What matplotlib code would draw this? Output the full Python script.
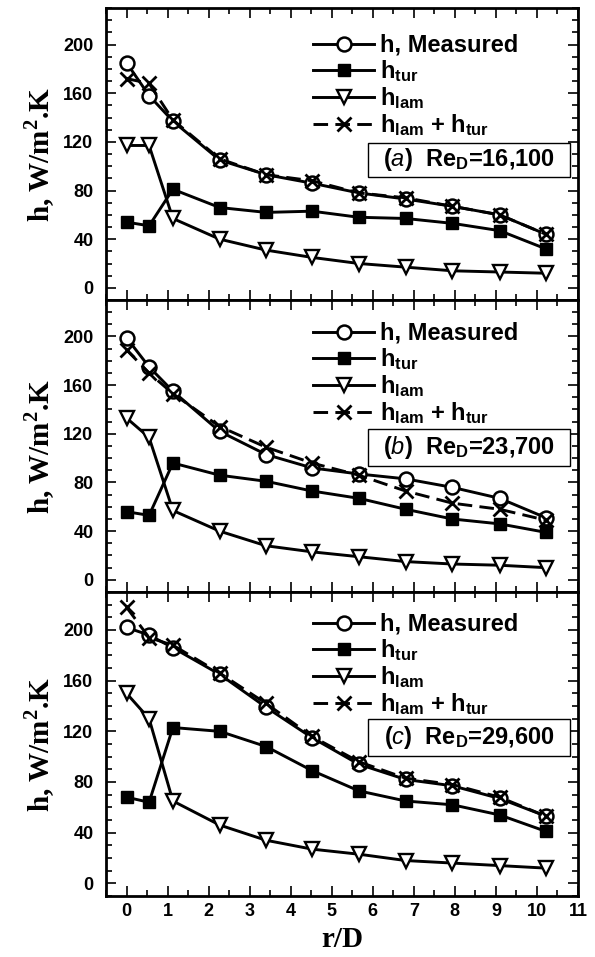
import matplotlib
matplotlib.use("Agg")
import matplotlib.pyplot as plt
from matplotlib.font_manager import FontProperties
from matplotlib.patches import Rectangle
from matplotlib.ticker import MultipleLocator

plt.rcParams["font.family"] = ["Liberation Sans", "DejaVu Sans"]
plt.rcParams["font.weight"] = "bold"
plt.rcParams["mathtext.fontset"] = "custom"
plt.rcParams["mathtext.rm"] = "Liberation Sans:normal"
plt.rcParams["mathtext.it"] = "Liberation Sans:italic:normal"
plt.rcParams["mathtext.bf"] = "Liberation Sans:bold"
plt.rcParams["mathtext.sf"] = "Liberation Serif:bold"

# radial position r/D of the measurement stations
r_d = [0, 0.55, 1.13, 2.27, 3.4, 4.52, 5.66, 6.8, 7.94, 9.09, 10.22]

# (a) Re_D = 16,100
a_meas = [185, 158, 137, 105, 93, 86, 78, 73, 67, 60, 44]
a_tur = [54, 51, 81, 66, 62, 63, 58, 57, 53, 47, 32]
a_lam = [117, 117, 57, 40, 31, 25, 20, 17, 14, 13, 12]
a_sum = [172, 168, 138, 106, 93, 88, 78, 74, 67, 60, 44]

# (b) Re_D = 23,700
b_meas = [199, 175, 155, 122, 103, 92, 87, 83, 76, 67, 51]
b_tur = [56, 53, 96, 86, 81, 73, 67, 58, 50, 46, 39]
b_lam = [133, 117, 57, 40, 28, 23, 19, 15, 13, 12, 10]
b_sum = [189, 170, 153, 126, 109, 96, 86, 73, 63, 58, 49]

# (c) Re_D = 29,600
c_meas = [202, 196, 186, 165, 139, 115, 94, 82, 77, 67, 53]
c_tur = [68, 64, 123, 120, 108, 89, 73, 65, 62, 54, 41]
c_lam = [150, 130, 65, 46, 34, 27, 23, 18, 16, 14, 12]
c_sum = [218, 194, 188, 166, 142, 116, 96, 83, 78, 68, 53]

panel_tags = ["a", "b", "c"]
panel_re = ["16,100", "23,700", "29,600"]
legend_labels = ["h, Measured", "h$_{\\mathbf{tur}}$", "h$_{\\mathbf{lam}}$",
                 "h$_{\\mathbf{lam}}$ + h$_{\\mathbf{tur}}$"]

x_ticks = list(range(0, 12))
y_ticks = [0, 40, 80, 120, 160, 200]

fig = plt.figure(figsize=(5.95, 9.57), dpi=100)
W, H = 595.0, 957.0
left_px, right_px = 106, 578
bounds = [(8, 300), (300, 592), (592, 896)]
legend_top = [0.911, 0.925, 0.931]
box_spec = [(0.421, 0.117), (0.43, 0.128), (0.46, 0.122)]

series = [
    (a_meas, a_tur, a_lam, a_sum),
    (b_meas, b_tur, b_lam, b_sum),
    (c_meas, c_tur, c_lam, c_sum),
]

tick_fp = FontProperties(family="Liberation Sans", weight="bold", size=13)
leg_fp = FontProperties(family="Liberation Sans", weight="bold", size=17)
label_font = dict(family="Liberation Serif", weight="bold", size=21)

lw = 2.1
for i, ((top, bot), (meas, tur, lam, tot)) in enumerate(zip(bounds, series)):
    ax = fig.add_axes([left_px / W, 1 - bot / H, (right_px - left_px) / W, (bot - top) / H])
    ax.set_xlim(-0.5, 11)
    ax.set_ylim(-10, 230)

    l_lam, = ax.plot(r_d, lam, "-", color="black", lw=lw, marker="v", ms=10.5,
                     mfc="white", mec="black", mew=1.7, zorder=3)
    l_tur, = ax.plot(r_d, tur, "-", color="black", lw=lw, marker="s", ms=8.5,
                     mfc="black", mec="black", zorder=3)
    l_meas, = ax.plot(r_d, meas, "-", color="black", lw=lw, marker="o", ms=10,
                      mfc="white", mec="black", mew=1.8, zorder=4)
    l_sum, = ax.plot(r_d, tot, color="black", lw=lw, ls=(0, (5, 2.5)), marker="x",
                     ms=10, mec="black", mew=2.0, zorder=5)

    ax.legend([l_meas, l_tur, l_lam, l_sum], legend_labels,
              loc="upper left", bbox_to_anchor=(0.4386, legend_top[i]),
              frameon=False, borderpad=0, borderaxespad=0,
              handlelength=2.6, handletextpad=0.25, labelspacing=0.05,
              prop=leg_fp)

    # Reynolds number tag
    b0, bh = box_spec[i]
    ax.add_patch(Rectangle((0.555, b0), 0.428, bh, transform=ax.transAxes,
                           facecolor="white", edgecolor="black", lw=1.0, zorder=6))
    ax.text(0.769, b0 + bh / 2,
            "$\\mathregular{(}\\mathit{" + panel_tags[i] + "}\\mathregular{)}$  Re$_{\\mathbf{D}}$=" + panel_re[i],
            transform=ax.transAxes, ha="center", va="center", zorder=7,
            fontsize=17, fontweight="bold", family="Liberation Sans")

    ax.set_xticks(x_ticks)
    ax.xaxis.set_minor_locator(MultipleLocator(0.5))
    ax.set_yticks(y_ticks)
    ax.yaxis.set_minor_locator(MultipleLocator(10))
    ax.tick_params(which="both", direction="in", top=True, right=True, width=1.2)
    ax.tick_params(which="major", length=7)
    ax.tick_params(which="minor", length=4.5)
    ax.tick_params(axis="y", pad=9)
    ax.tick_params(axis="x", pad=5)
    for sp in ax.spines.values():
        sp.set_linewidth(2.0)

    for t in ax.get_yticklabels():
        t.set_fontproperties(tick_fp)
    if i < 2:
        ax.set_xticklabels([])
    else:
        for t in ax.get_xticklabels():
            t.set_fontproperties(tick_fp)
        ax.set_xlabel("r/D", fontdict=label_font)
        ax.xaxis.set_label_coords(0.5, -0.0987)
        ax.xaxis.label.set_va("top")

    ax.set_ylabel("h, W/m$^{\\mathsf{2}}$.K", fontdict=label_font)
    ax.yaxis.set_label_coords(-0.104, 0.5)

fig.savefig("out.png", dpi=100, facecolor="white")
